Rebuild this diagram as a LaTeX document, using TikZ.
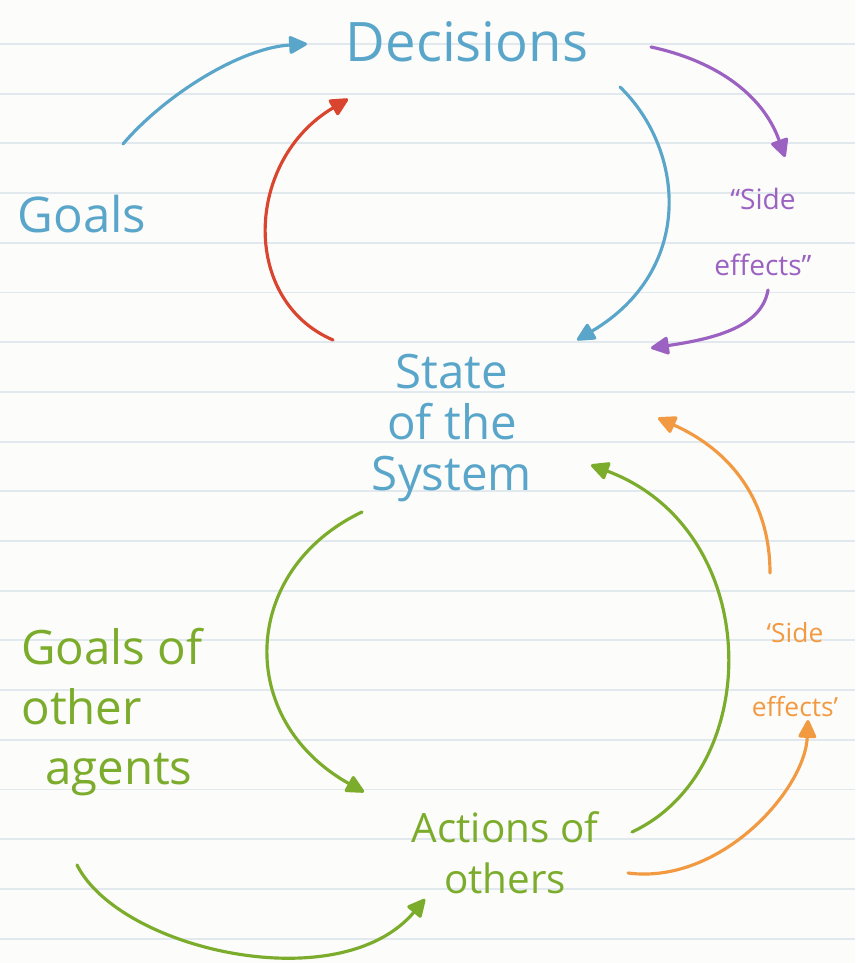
\documentclass[tikz,border=0pt]{standalone}
\usepackage{fontspec}
\setmainfont{Open Sans}
\usetikzlibrary{arrows.meta}

\definecolor{paper}{HTML}{FCFCFA}
\definecolor{rule}{HTML}{E2E9EE}
\definecolor{inkblue}{HTML}{5AA6CA}
\definecolor{inkred}{HTML}{DA4530}
\definecolor{inkpurple}{HTML}{9C62C2}
\definecolor{inkgreen}{HTML}{7CAC2C}
\definecolor{inkorange}{HTML}{F29A42}

\tikzset{
  pen/.style={line width=1.8pt, line cap=round,
    -{Triangle[length=4mm,width=3.8mm,round]}},
  hand/.style={inner sep=0pt, align=center},
}

\begin{document}
\begin{tikzpicture}[x=0.02cm,y=-0.02cm]
  % paper and ruling
  \fill[paper] (0,0) rectangle (855,963);
  \useasboundingbox (0,0) rectangle (855,963);
  \foreach \k in {0,...,18}
    \draw[rule, line width=1.1pt] (0,44+49.7*\k) -- (855,44+49.7*\k);

  % labels
  \node[hand, text=inkblue, font=\fontsize{31}{36}\selectfont] (decisions) at (467,42) {Decisions};
  \node[hand, text=inkblue, font=\fontsize{28}{32}\selectfont] (goals) at (82,214) {Goals};
  \node[hand, text=inkblue, font=\fontsize{27}{29}\selectfont, align=center] (state) at (452,428)
    {State\\of the\\System};
  \node[hand, text=inkpurple, font=\fontsize{16}{38}\selectfont] (sidefxA) at (763,232)
    {“Side\\effects”};
  \node[hand, text=inkgreen, font=\fontsize{27}{34}\selectfont, align=left] (goalsOthers) at (112,712)
    {Goals of\\other\\\hspace*{0.5em}agents};
  \node[hand, text=inkgreen, font=\fontsize{23}{29}\selectfont] (actions) at (505,853)
    {Actions of\\others};
  \node[hand, text=inkorange, font=\fontsize{15}{42}\selectfont] (sidefxB) at (795,670)
    {‘Side\\effects’};

  % free ends of the connectors
  \coordinate (g1) at (123,144);   \coordinate (d1) at (307,44);
  \coordinate (s1) at (333,340);   \coordinate (d2) at (348,99);
  \coordinate (d3) at (620,87);    \coordinate (s3) at (577,340);
  \coordinate (d4) at (651,47);    \coordinate (e4) at (785,157);
  \coordinate (e5) at (768,290);   \coordinate (s5) at (651,348);
  \coordinate (e6) at (770,573);   \coordinate (s6) at (658,418);
  \coordinate (s7) at (362,512);   \coordinate (a7) at (364,792);
  \coordinate (a8) at (632,832);   \coordinate (s8) at (591,465);
  \coordinate (a9) at (628,873);   \coordinate (e9) at (808,720);
  \coordinate (o10) at (77,865);   \coordinate (a10) at (425,899);

  % connectors
  \draw[pen, inkblue]   (g1) .. controls (165,95) and (240,48) .. (d1);
  \draw[pen, inkred]    (s1) .. controls (240,300) and (245,160) .. (d2);
  \draw[pen, inkblue]   (d3) .. controls (685,150) and (695,270) .. (s3);
  \draw[pen, inkpurple] (d4) .. controls (712,60) and (762,92) .. (e4);
  \draw[pen, inkpurple] (e5) .. controls (762,325) and (720,338) .. (s5);
  \draw[pen, inkorange] (e6) .. controls (770,500) and (730,450) .. (s6);
  \draw[pen, inkgreen]  (s7) .. controls (240,570) and (235,720) .. (a7);
  \draw[pen, inkgreen]  (a8) .. controls (765,770) and (765,530) .. (s8);
  \draw[pen, inkorange] (a9) .. controls (720,885) and (805,790) .. (e9);
  \draw[pen, inkgreen]  (o10) .. controls (120,950) and (340,1000) .. (a10);
\end{tikzpicture}
\end{document}
